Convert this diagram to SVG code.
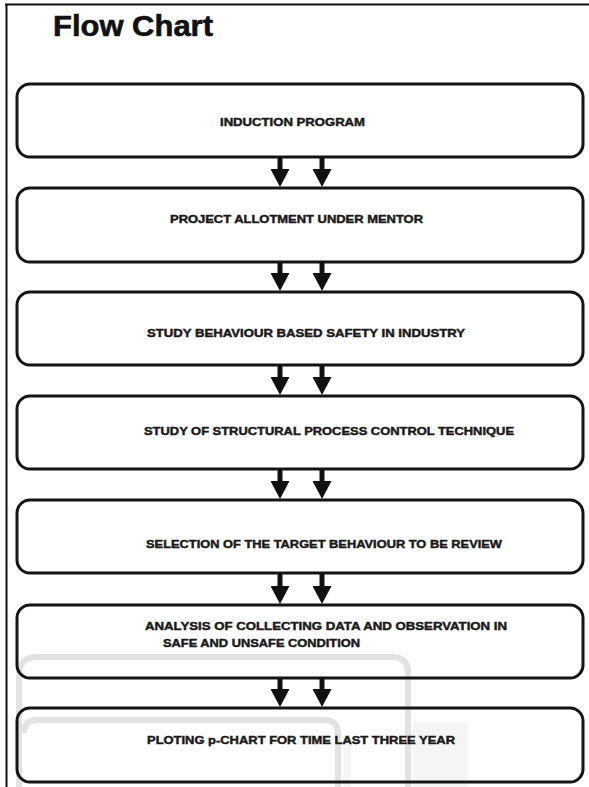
<svg xmlns="http://www.w3.org/2000/svg" width="589" height="787" viewBox="0 0 589 787">
  <style>
    .frame { stroke: #111; stroke-width: 2; fill: none; }
    .wm { fill: none; stroke: #e2e2e2; stroke-width: 6; }
    .wm-soft { fill: #f5f5f5; stroke: none; }
    .box { fill: none; stroke: #141414; stroke-width: 3; }
    .lbl { font-family: "Liberation Sans", Arial, sans-serif; font-weight: bold; font-size: 11px; fill: #1a1a1a; stroke: #1a1a1a; stroke-width: 0.45; }
    .title { font-family: "Liberation Sans", Arial, sans-serif; font-weight: bold; font-size: 29px; fill: #111; stroke: #111; stroke-width: 0.6; }
    .conn { stroke: #111; stroke-width: 5; }
  </style>
  <defs>
    <marker id="head" viewBox="0 0 18 19" markerWidth="18" markerHeight="19" refX="0" refY="9.5" orient="auto" markerUnits="userSpaceOnUse">
      <path d="M0,0 L18,9.5 L0,19 Z" fill="#111"/>
    </marker>
  </defs>
  <rect x="0" y="0" width="589" height="787" fill="#fff"/>
  <!-- page frame -->
  <line class="frame" x1="5" y1="4.5" x2="589" y2="4.5"/>
  <line class="frame" x1="6.5" y1="4" x2="6.5" y2="787"/>
  <!-- faint watermark -->
  <g id="watermark">
    <rect class="wm-soft" x="413" y="722" width="55" height="65"/>
    <rect class="wm-soft" x="343" y="735" width="8" height="52"/>
    <path class="wm" d="M19,787 L19,675 Q19,657 37,657 L392,657 Q408,657 408,673 L408,787"/>
    <path class="wm" d="M24,733 Q24,720 37,720 L324,720 Q338,720 338,734 L338,787"/>
  </g>
  <text class="title" x="53" y="36" textLength="160" lengthAdjust="spacingAndGlyphs">Flow Chart</text>
  <g id="n1">
    <rect class="box" x="17" y="84" width="566" height="73" rx="13"/>
    <text class="lbl" x="220" y="126" textLength="145" lengthAdjust="spacingAndGlyphs">INDUCTION PROGRAM</text>
  </g>
  <g id="n2">
    <rect class="box" x="17" y="188" width="566" height="74" rx="13"/>
    <text class="lbl" x="170" y="223" textLength="253" lengthAdjust="spacingAndGlyphs">PROJECT ALLOTMENT UNDER MENTOR</text>
  </g>
  <g id="n3">
    <rect class="box" x="17" y="292" width="566" height="73" rx="13"/>
    <text class="lbl" x="147" y="337" textLength="318" lengthAdjust="spacingAndGlyphs">STUDY BEHAVIOUR BASED SAFETY IN INDUSTRY</text>
  </g>
  <g id="n4">
    <rect class="box" x="17" y="396" width="566" height="73" rx="13"/>
    <text class="lbl" x="144" y="435" textLength="370" lengthAdjust="spacingAndGlyphs">STUDY OF STRUCTURAL PROCESS CONTROL TECHNIQUE</text>
  </g>
  <g id="n5">
    <rect class="box" x="17" y="500" width="566" height="73" rx="13"/>
    <text class="lbl" x="146" y="548" textLength="356" lengthAdjust="spacingAndGlyphs">SELECTION OF THE TARGET BEHAVIOUR TO BE REVIEW</text>
  </g>
  <g id="n6">
    <rect class="box" x="17" y="605" width="566" height="73" rx="13"/>
    <text class="lbl" x="145" y="630" textLength="362" lengthAdjust="spacingAndGlyphs">ANALYSIS OF COLLECTING DATA AND OBSERVATION IN</text>
    <text class="lbl" x="163" y="647" textLength="197" lengthAdjust="spacingAndGlyphs">SAFE AND UNSAFE CONDITION</text>
  </g>
  <g id="n7">
    <rect class="box" x="17" y="708" width="566" height="74" rx="13"/>
    <text class="lbl" x="147" y="744" textLength="308" lengthAdjust="spacingAndGlyphs">PLOTING p-CHART FOR TIME LAST THREE YEAR</text>
  </g>
  <g id="connectors">
    <line class="conn" x1="280" y1="158" x2="280" y2="169" marker-end="url(#head)"/>
    <line class="conn" x1="322" y1="158" x2="322" y2="169" marker-end="url(#head)"/>
    <line class="conn" x1="280" y1="263" x2="280" y2="273" marker-end="url(#head)"/>
    <line class="conn" x1="322" y1="263" x2="322" y2="273" marker-end="url(#head)"/>
    <line class="conn" x1="280" y1="366" x2="280" y2="377" marker-end="url(#head)"/>
    <line class="conn" x1="322" y1="366" x2="322" y2="377" marker-end="url(#head)"/>
    <line class="conn" x1="280" y1="470" x2="280" y2="481" marker-end="url(#head)"/>
    <line class="conn" x1="322" y1="470" x2="322" y2="481" marker-end="url(#head)"/>
    <line class="conn" x1="280" y1="574" x2="280" y2="586" marker-end="url(#head)"/>
    <line class="conn" x1="322" y1="574" x2="322" y2="586" marker-end="url(#head)"/>
    <line class="conn" x1="280" y1="679" x2="280" y2="689" marker-end="url(#head)"/>
    <line class="conn" x1="322" y1="679" x2="322" y2="689" marker-end="url(#head)"/>
  </g>
</svg>
